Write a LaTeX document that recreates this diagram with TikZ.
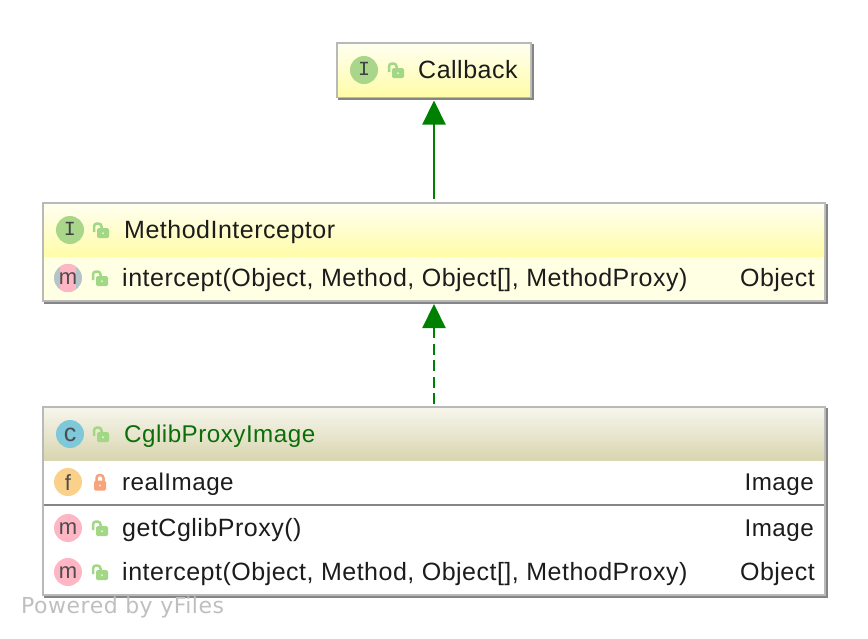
\documentclass[tikz,border=0pt]{standalone}
\usepackage{fontspec}
\setmainfont{Liberation Sans}
\newfontfamily\rowfont[LetterSpace=2.0]{Liberation Sans}
\newfontfamily\iconfont{Liberation Mono}
\newfontfamily\footfont[LetterSpace=2.3]{DejaVu Sans}
\usepackage{tikz}
\usetikzlibrary{arrows.meta,shadows}
\definecolor{linegreen}{HTML}{008000}
\definecolor{namegreen}{HTML}{0B6E0B}
\definecolor{boxgray}{HTML}{B9B9B9}
\definecolor{shadegray}{HTML}{858585}
\definecolor{cream}{HTML}{FFFFE3}
\definecolor{lockgreen}{HTML}{A2D786}
\definecolor{lockred}{HTML}{F6A47C}
\definecolor{textdark}{HTML}{1C1C1C}
\definecolor{ballgreen}{HTML}{A9D68A}
\definecolor{ballblue}{HTML}{7EC8DA}
\definecolor{ballorange}{HTML}{FAD08A}
\definecolor{ballpink}{HTML}{FFB6C4}
\definecolor{ballgray}{HTML}{B5C4C8}
\definecolor{headtop}{HTML}{FFFFF0}
\definecolor{headbottom}{HTML}{FFFCA8}
\definecolor{olivetop}{HTML}{F6F6EC}
\definecolor{olivebottom}{HTML}{D9D5B0}
\tikzset{
	classbox/.style={draw=boxgray,line width=2pt,fill=white,inner sep=0pt,outer sep=0pt,
		copy shadow={shadow xshift=2pt,shadow yshift=-2pt,draw=shadegray,fill=shadegray}},
	yellowhead/.style={inner sep=0pt,outer sep=0pt,top color=headtop,bottom color=headbottom},
	olivehead/.style={inner sep=0pt,outer sep=0pt,top color=olivetop,bottom color=olivebottom},
	rowtext/.style={anchor=base west,inner sep=0pt,text=textdark,font=\rowfont\fontsize{25}{28}\selectfont},
	typetext/.style={anchor=base east,inner sep=0pt,text=textdark,font=\rowfont\fontsize{25}{28}\selectfont},
	imagesize/.style={font=\rowfont\fontsize{24.2}{28}\selectfont},
	iconball/.style={circle,minimum size=28pt,inner sep=0pt,outer sep=0pt,fill=#1,text=black!70,
		text height=13.5pt,text depth=0pt,font=\fontsize{22}{24}\selectfont},
	iconletter/.style={iconball=ballgreen,text=black!75,text height=11pt,font=\iconfont\fontsize{20}{24}\selectfont},
	openlock/.pic={
		\fill[lockgreen,rounded corners=1.5pt] (-6,-5) rectangle (6,5);
		\draw[lockgreen,line width=2.5pt,rounded corners=3pt] (-9,-1) -- (-9,-9.5) -- (-1.5,-9.5) -- (-1.5,-4);
		\fill[white!70!lockgreen] (0,0.3) circle (1.1pt);
	},
	closedlock/.pic={
		\fill[lockred,rounded corners=1.5pt] (-6,-4.5) rectangle (6,5.5);
		\draw[lockred,line width=2.5pt,rounded corners=3pt] (-3.5,-4) -- (-3.5,-10) -- (3.5,-10) -- (3.5,-4);
		\fill[white!70!lockred] (0,0.5) circle (1.1pt);
	},
}

\begin{document}
\begin{tikzpicture}[x=1pt,y=-1pt]
	\useasboundingbox (0,0) rectangle (868,638);

	\node[classbox,minimum width=194pt,minimum height=54pt] (callbackBox) at (434,70) {};
	\node[yellowhead,minimum width=192pt,minimum height=52pt] (callbackHead) at (434,70) {};
	\node[iconletter] (callbackIcon) at (364,70) {I};
	\pic at (398,73) {openlock};
	\node[rowtext] (callbackName) at (418,78) {Callback};

	\node[classbox,minimum width=782pt,minimum height=98pt,fill=cream] (methodBox) at (434,252) {};
	\node[yellowhead,minimum width=780pt,minimum height=52pt] (methodHead) at (434,230) {};
	\node[iconletter] (methodIcon) at (70,230) {I};
	\pic at (103,233) {openlock};
	\node[rowtext] (methodName) at (124,238) {MethodInterceptor};
	\node[iconball=ballgray,path picture={\fill[ballpink] ([xshift=-8pt,yshift=-14pt]path picture bounding box.center) rectangle ([xshift=8pt,yshift=14pt]path picture bounding box.center);}] (abstractIcon) at (68,278) {m};
	\pic at (102,281) {openlock};
	\node[rowtext] (methodRow) at (122,286) {intercept(Object, Method, Object[], MethodProxy)};
	\node[typetext] (methodType) at (815,286) {Object};

	\node[classbox,minimum width=782pt,minimum height=188pt] (cglibBox) at (434,501) {};
	\node[olivehead,minimum width=780pt,minimum height=52pt] (cglibHead) at (434,434) {};
	\node[iconball=ballblue,text height=14pt,font=\fontsize{25}{26}\selectfont] (cglibIcon) at (70,434) {c};
	\pic at (103,437) {openlock};
	\node[rowtext,imagesize,text=namegreen] (cglibName) at (124,442) {CglibProxyImage};

	\node[iconball=ballorange,text height=16pt] (fieldIcon) at (68,482) {f};
	\pic at (100,485) {closedlock};
	\node[rowtext,imagesize] (fieldRow) at (122,490) {realImage};
	\node[typetext,imagesize] (fieldType) at (814,490) {Image};
	\draw[shadegray,line width=2pt] (44,505) -- (824,505);

	\node[iconball=ballpink] (proxyIcon) at (68,528) {m};
	\pic at (102,531) {openlock};
	\node[rowtext] (proxyRow) at (122,536) {getCglibProxy()};
	\node[typetext,imagesize] (proxyType) at (814,536) {Image};

	\node[iconball=ballpink] (interceptIcon) at (68,572) {m};
	\pic at (102,575) {openlock};
	\node[rowtext] (interceptRow) at (122,580) {intercept(Object, Method, Object[], MethodProxy)};
	\node[typetext] (interceptType) at (815,580) {Object};

	\node[anchor=base west,inner sep=0pt,text=black!25,font=\footfont\fontsize{22}{24}\selectfont] (poweredBy) at (21,613) {Powered by yFiles};

	\draw[linegreen,line width=2.2pt,-{Triangle[length=24pt,width=23pt]},shorten >=3.5pt,shorten <=4pt] (methodBox.north) -- (callbackBox.south);
	\draw[linegreen,line width=2.2pt,dash pattern=on 11pt off 5.5pt,-{Triangle[length=24pt,width=23pt]},shorten >=3pt,shorten <=3pt] (cglibBox.north) -- (methodBox.south);
\end{tikzpicture}
\end{document}
